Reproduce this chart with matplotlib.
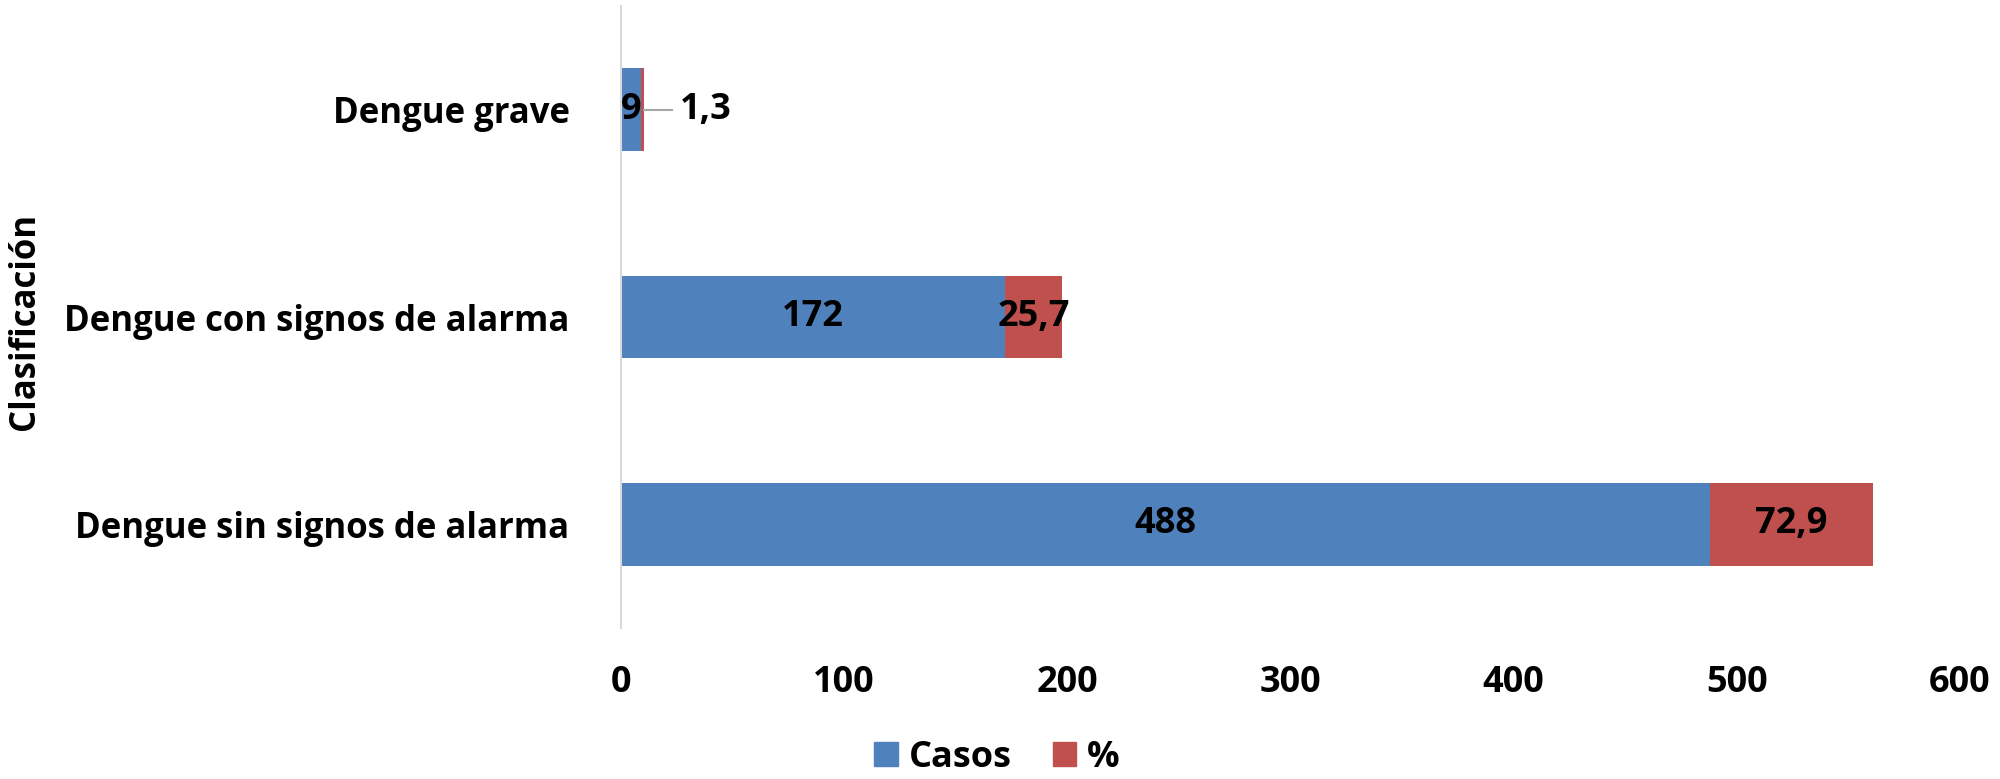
import matplotlib
matplotlib.use("Agg")
import matplotlib.pyplot as plt
from matplotlib.patches import Patch

categorias = ["Dengue sin signos de alarma", "Dengue con signos de alarma", "Dengue grave"]
casos = [488, 172, 9]
porcentaje = [72.9, 25.7, 1.3]
xticks = [0, 100, 200, 300, 400, 500, 600]

azul = "#4F81BD"
rojo = "#C0504D"

plt.rcParams['font.family'] = ['Open Sans', 'DejaVu Sans']
plt.rcParams['font.weight'] = 'bold'

fig = plt.figure(figsize=(20, 7.79), dpi=100)
ax = fig.add_axes([0.3105, 0.194, 0.98 - 0.3105, 0.992 - 0.194])

y = list(range(len(categorias)))
ax.barh(y, casos, height=0.4, color=azul, label="Casos")
ax.barh(y, porcentaje, left=casos, height=0.4, color=rojo, label="%")

fs_num = 26
fs_cat = 25

def fmt(v):
    return (f"{v:g}").replace(".", ",")

for i in y:
    ax.text(casos[i] / 2, i, fmt(casos[i]), ha="center", va="center",
            fontsize=fs_num, fontweight="bold", color="black")
    if porcentaje[i] > 5:
        ax.text(casos[i] + porcentaje[i] / 2, i, fmt(porcentaje[i]), ha="center",
                va="center", fontsize=fs_num, fontweight="bold", color="black")
    else:
        end = casos[i] + porcentaje[i]
        ax.plot([end, end + 12.5], [i, i], color="#A6A6A6", lw=1.5)
        ax.text(end + 16, i, fmt(porcentaje[i]), ha="left", va="center",
                fontsize=fs_num, fontweight="bold", color="black")

ax.set_xlim(0, 600)
ax.set_ylim(-0.5, 2.5)
ax.set_xticks(xticks)
ax.set_xticklabels([str(t) for t in xticks], fontsize=fs_num, fontweight="bold")
ax.set_yticks(y)
ax.set_yticklabels(categorias, fontsize=fs_cat, fontweight="bold")
ax.tick_params(axis="both", length=0)
ax.tick_params(axis="x", pad=27)
ax.tick_params(axis="y", pad=37)
for s in ["top", "right", "bottom"]:
    ax.spines[s].set_visible(False)
ax.spines["left"].set_color("#D9D9D9")
ax.spines["left"].set_linewidth(1.5)

fig.text(0.0125, 0.587, "Clasificación", rotation=90, ha="center", va="center",
         fontsize=fs_cat, fontweight="bold")

handles = [Patch(color=azul, label="Casos"), Patch(color=rojo, label="%")]
fig.legend(handles=handles, loc="center", bbox_to_anchor=(0.4985, 0.027), ncol=2,
           frameon=False, handlelength=0.65, handleheight=0.65,
           columnspacing=1.15, handletextpad=0.3, prop={'weight': 'bold', 'size': fs_num})

fig.savefig("out.png", dpi=100)
